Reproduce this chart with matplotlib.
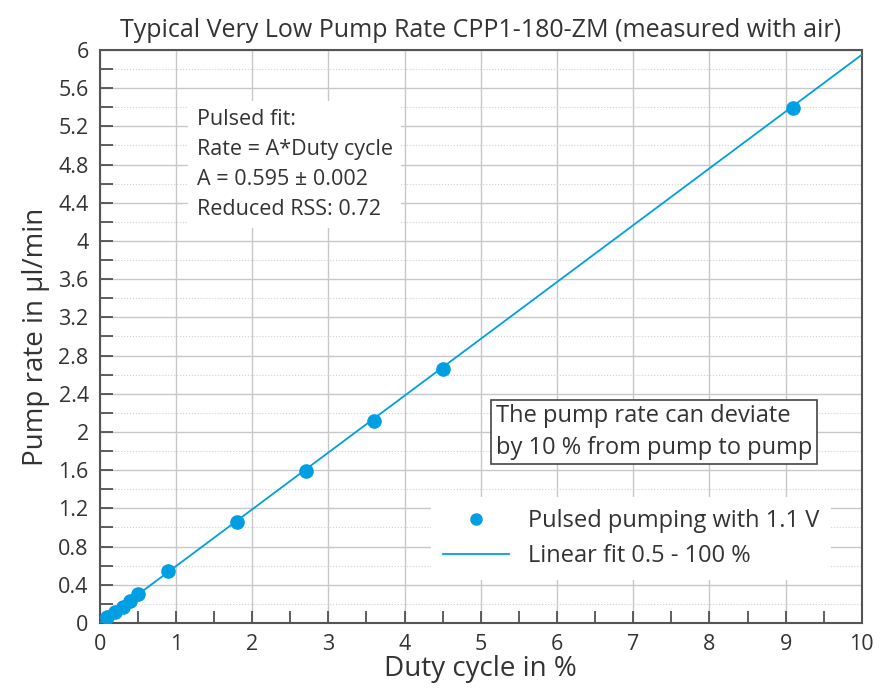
import numpy as np
import matplotlib.pyplot as plt
from matplotlib.ticker import MultipleLocator

plt.rcParams['font.family'] = ['Open Sans', 'DejaVu Sans']

# ================================ Data ================================
duty_cycle = [0.1, 0.2, 0.3, 0.4, 0.5, 0.9, 1.8, 2.7, 3.6, 4.5, 9.1]
pump_rate = [0.06, 0.12, 0.17, 0.23, 0.30, 0.54, 1.06, 1.59, 2.11, 2.66, 5.39]
fit_slope = 0.595
fit_x = [0, 10]

blue = '#009fe3'
txt = '#333333'

# ================================ Plot ================================
fig = plt.figure(figsize=(8.83, 6.95), dpi=100)
ax = fig.add_axes([0.113, 0.1036, 0.863, 0.8245])

ax.plot(fit_x, [fit_slope * x for x in fit_x], color=blue, lw=1.3,
        label='Linear fit 0.5 - 100 %', zorder=3)
ax.plot(duty_cycle, pump_rate, 'o', color=blue, ms=9.5,
        label='Pulsed pumping with 1.1 V', zorder=4)

ax.set_xlim(0, 10)
ax.set_ylim(0, 6)
ax.xaxis.set_major_locator(MultipleLocator(1))
ax.xaxis.set_minor_locator(MultipleLocator(0.5))
ax.yaxis.set_major_locator(MultipleLocator(0.4))
ax.yaxis.set_minor_locator(MultipleLocator(0.2))
ax.yaxis.set_major_formatter(plt.FuncFormatter(lambda v, p: f'{v:g}'))

ax.grid(which='major', color='#c8c8c8', lw=1.0)
ax.grid(which='minor', axis='y', color='#d0d0d0', lw=0.8, ls=':')
ax.set_axisbelow(True)

ax.tick_params(which='both', direction='in', length=9, width=1.2,
               color='#444444', labelsize=15.5, labelcolor=txt, pad=8)
for s in ax.spines.values():
    s.set_color('#555555')
    s.set_linewidth(1.5)

ax.set_title('Typical Very Low Pump Rate CPP1-180-ZM (measured with air)',
             fontsize=18, color=txt, pad=9)
ax.set_xlabel('Duty cycle in %', fontsize=20, color=txt, labelpad=0)
ax.set_ylabel('Pump rate in µl/min', fontsize=20, color=txt, labelpad=6)

ax.text(1.27, 5.38, 'Pulsed fit:\nRate = A*Duty cycle\nA = 0.595 ± 0.002\nReduced RSS: 0.72',
        fontsize=15.5, color=txt, va='top', ha='left', linespacing=1.55,
        bbox=dict(facecolor='white', edgecolor='none', pad=6), zorder=5)

ax.text(5.2, 2.0, 'The pump rate can deviate\nby 10 % from pump to pump',
        fontsize=17, color=txt, va='center', ha='left', linespacing=1.4,
        bbox=dict(facecolor='white', edgecolor='#444444', lw=1.2,
                  boxstyle='square,pad=0.2'), zorder=5)

h, l = ax.get_legend_handles_labels()
leg = ax.legend(h[::-1], l[::-1], loc='lower right', bbox_to_anchor=(0.975, 0.055),
                frameon=True, fontsize=17, handlelength=2.8, handletextpad=0.8,
                labelspacing=0.45, borderpad=0.5)
leg.get_frame().set_edgecolor('none')
leg.get_frame().set_facecolor('white')
leg.get_frame().set_alpha(1)
for t in leg.get_texts():
    t.set_color(txt)
leg.legend_handles[0].set_markersize(8)

fig.savefig('out.png', dpi=100)
